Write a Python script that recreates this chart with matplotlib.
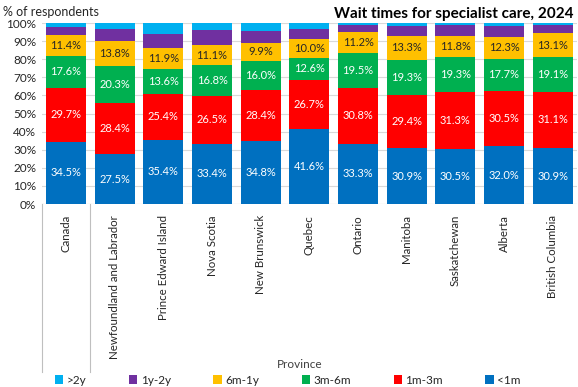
import matplotlib
matplotlib.use("Agg")
import matplotlib.pyplot as plt
import numpy as np

provinces = ["Canada", "Newfoundland and Labrador", "Prince Edward Island", "Nova Scotia",
             "New Brunswick", "Quebec", "Ontario", "Manitoba", "Saskatchewan", "Alberta",
             "British Columbia"]
lt1m = [34.5, 27.5, 35.4, 33.4, 34.8, 41.6, 33.3, 30.9, 30.5, 32.0, 30.9]
m1_3 = [29.7, 28.4, 25.4, 26.5, 28.4, 26.7, 30.8, 29.4, 31.3, 30.5, 31.1]
m3_6 = [17.6, 20.3, 13.6, 16.8, 16.0, 12.6, 19.5, 19.3, 19.3, 17.7, 19.1]
m6_1y = [11.4, 13.8, 11.9, 11.1, 9.9, 10.0, 11.2, 13.3, 11.8, 12.3, 13.1]
y1_2 = [4.8, 6.5, 7.7, 8.4, 6.4, 5.9, 3.9, 5.6, 5.9, 5.8, 4.8]
gt2y = [2.0, 3.5, 6.0, 3.8, 4.5, 3.2, 1.3, 1.5, 1.2, 1.7, 1.0]

series = [("<1m", lt1m, "#0070C0", "white", True),
          ("1m-3m", m1_3, "#FF0000", "white", True),
          ("3m-6m", m3_6, "#00B050", "white", True),
          ("6m-1y", m6_1y, "#FFC000", "#262626", True),
          ("1y-2y", y1_2, "#7030A0", "white", False),
          (">2y", gt2y, "#00B0F0", "white", False)]

plt.rcParams['font.family'] = ['Lato', 'DejaVu Sans']

fig = plt.figure(figsize=(5.78, 3.87), dpi=100)
W, H = 578, 387
L, R, B, T = 41.7, 577, 204, 23
ax = fig.add_axes([L / W, 1 - B / H, (R - L) / W, (B - T) / H])

x = np.arange(len(provinces))
bottom = np.zeros(len(provinces))
handles = {}
for name, vals, col, tcol, lab in series:
    v = np.array(vals)
    b = ax.bar(x, v, bottom=bottom, width=0.82, color=col, zorder=2, label=name)
    handles[name] = b
    if lab:
        for xi, vi, bi in zip(x, v, bottom):
            ax.text(xi, bi + vi / 2, f"{vi:.1f}%", ha="center", va="center",
                    color=tcol, fontsize=8, zorder=3)
    bottom += v

ax.set_xlim(-0.5, len(provinces) - 0.5)
ax.set_ylim(0, 100)
ax.set_yticks(np.arange(0, 101, 10))
ax.set_yticklabels([f"{t}%" for t in range(0, 101, 10)], fontsize=8.5, color="#262626")
ax.yaxis.grid(True, color="#D9D9D9", linewidth=0.8, zorder=0)
ax.set_axisbelow(True)
for s in ax.spines.values():
    s.set_visible(False)
ax.tick_params(axis="y", length=0, pad=4)
ax.tick_params(axis="x", length=0, pad=8)
ax.set_xticks(x)
ax.set_xticklabels(provinces, rotation=90, va="top", ha="center", fontsize=8.3, color="#262626")

# category separators
sep_depth = (372 - 204) / (B - T)
for xs in [-0.5, 0.5]:
    ax.plot([xs, xs], [0, -sep_depth * 100], color="#BFBFBF", linewidth=0.8,
            clip_on=False, transform=ax.transData)
ax.plot([-0.5, len(provinces) - 0.5], [0, 0], color="#D9D9D9", linewidth=0.8, zorder=1)

fig.text(300 / W, 1 - 365 / H, "Province", ha="center", va="center", fontsize=8.5, color="#404040")
fig.text(3 / W, 1 - 12 / H, "% of respondents", ha="left", va="center", fontsize=9, color="#262626")
fig.text(574 / W, 1 - 14 / H, "Wait times for specialist care, 2024", ha="right", va="center",
         fontsize=11, fontweight="bold", color="black")

order = [">2y", "1y-2y", "6m-1y", "3m-6m", "1m-3m", "<1m"]
leg = fig.legend([handles[n] for n in order], order, loc="center", ncol=6,
                 bbox_to_anchor=(288 / W, 1 - 380 / H), frameon=False, fontsize=8.5,
                 handlelength=0.7, handleheight=0.7, handletextpad=0.3, columnspacing=3.6,
                 labelcolor="#262626")

fig.savefig("out.png", dpi=100)
